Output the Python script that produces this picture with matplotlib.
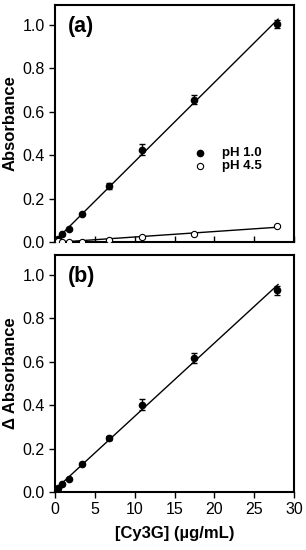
import numpy as np
import matplotlib.pyplot as plt

plt.rcParams['font.family'] = ['Liberation Sans', 'DejaVu Sans']

conc = [0.2, 0.43, 0.9, 1.7, 3.4, 6.8, 10.9, 17.4, 27.9]
abs_ph1 = [0.005, 0.015, 0.035, 0.06, 0.128, 0.258, 0.425, 0.655, 1.002]
err_ph1 = [0.002, 0.003, 0.004, 0.004, 0.005, 0.012, 0.025, 0.022, 0.02]
abs_ph45 = [0.004, 0.003, 0.002, 0.002, 0.002, 0.01, 0.022, 0.038, 0.073]
err_ph45 = [0.001, 0.001, 0.001, 0.001, 0.001, 0.002, 0.003, 0.004, 0.004]
d_abs = [0.007, 0.018, 0.038, 0.06, 0.127, 0.248, 0.402, 0.617, 0.928]
err_d = [0.002, 0.003, 0.004, 0.004, 0.005, 0.008, 0.027, 0.024, 0.02]

xticks = [0, 5, 10, 15, 20, 25, 30]
yticks = [0.0, 0.2, 0.4, 0.6, 0.8, 1.0]

fig = plt.figure(figsize=(3.06, 5.5), dpi=100)
ax1 = fig.add_axes([55/306, 1 - 242/550, 239/306, 237/550])
ax2 = fig.add_axes([55/306, 1 - 492/550, 239/306, 237/550])

xfit = np.array([0, 28])

def fitline(ax, y):
    p = np.polyfit(conc, y, 1)
    ax.plot(xfit, np.polyval(p, xfit), color='black', lw=1.0, zorder=1)

fitline(ax1, abs_ph1)
fitline(ax1, abs_ph45)
ax1.errorbar(conc, abs_ph1, yerr=err_ph1, fmt='o', color='black', ms=4.5,
             capsize=2.5, elinewidth=1, zorder=3)
ax1.errorbar(conc, abs_ph45, yerr=err_ph45, fmt='o', mfc='white', mec='black',
             color='black', ms=4.5, mew=0.8, capsize=2.5, elinewidth=1, zorder=3)
# legend
ax1.plot([18.2], [0.41], 'o', color='black', ms=4.5)
ax1.plot([18.2], [0.35], 'o', mfc='white', mec='black', mew=0.8, ms=4.5)
ax1.text(21.0, 0.41, 'pH 1.0', fontsize=9.5, fontweight='bold', va='center')
ax1.text(21.0, 0.35, 'pH 4.5', fontsize=9.5, fontweight='bold', va='center')

fitline(ax2, d_abs)
ax2.errorbar(conc, d_abs, yerr=err_d, fmt='o', color='black', ms=4.5,
             capsize=2.5, elinewidth=1, zorder=3)

for ax, lab, ylab in [(ax1, '(a)', 'Absorbance'), (ax2, '(b)', 'Δ Absorbance')]:
    ax.set_xlim(0, 30)
    ax.set_ylim(0, 1.09)
    ax.set_yticks(yticks)
    ax.set_yticklabels(['%.1f' % v for v in yticks], fontsize=11.5)
    ax.set_xticks(xticks)
    for s in ax.spines.values():
        s.set_linewidth(1.5)
    ax.text(0.055, 0.91, lab, transform=ax.transAxes, fontsize=15.5,
            fontweight='bold', va='center')
    ax.set_ylabel(ylab, fontsize=12, fontweight='bold', labelpad=3)

ax1.tick_params(axis='x', direction='in', length=4, width=1, labelbottom=False)
ax1.tick_params(axis='y', direction='out', length=4, width=1)
ax2.tick_params(axis='both', direction='out', length=4, width=1, labelsize=11.5)
ax2.set_xlabel('[Cy3G] (µg/mL)', fontsize=12, fontweight='bold', labelpad=6)

fig.savefig('out.png', dpi=100)
